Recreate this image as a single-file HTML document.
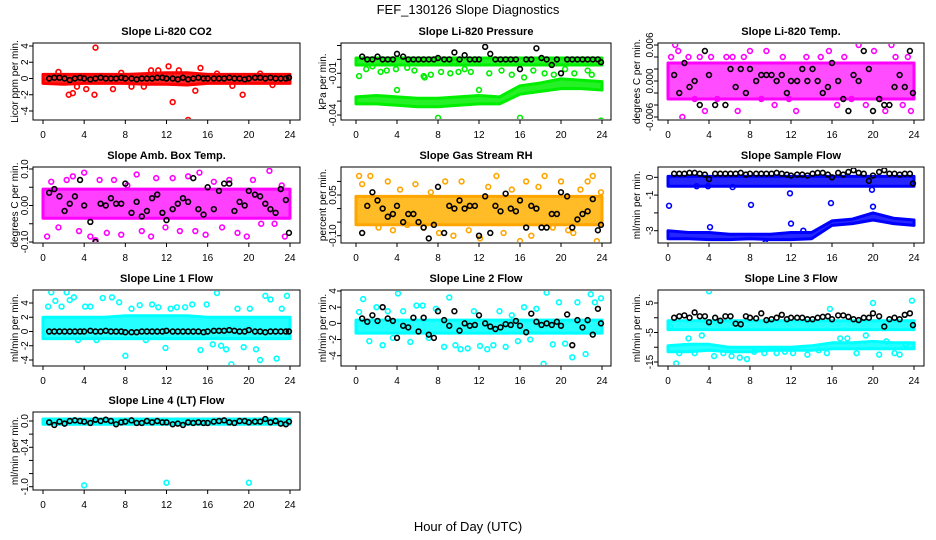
<!DOCTYPE html>
<html><head><meta charset="utf-8"><title>FEF_130126 Slope Diagnostics</title>
<style>html,body{margin:0;padding:0;background:#fff}svg{display:block;font-family:"Liberation Sans",Arial,sans-serif}</style>
</head><body>
<svg id="chart" width="936" height="540" viewBox="0 0 936 540" xmlns="http://www.w3.org/2000/svg">
<text x="468" y="14" text-anchor="middle" font-size="13">FEF_130126  Slope Diagnostics</text>
<text x="468" y="531" text-anchor="middle" font-size="13">Hour of Day (UTC)</text>
</svg>
<script>
// shared x data
const xTicks = [0,4,8,12,16,20,24];
const blackHours = [0.6,1.1,1.6,2.1,2.6,3.1,3.6,4.0,4.6,5.1,5.6,6.1,6.6,7.1,7.6,8.0,8.6,9.1,9.6,10.1,10.6,11.1,11.6,12.0,12.6,13.1,13.6,14.1,14.6,15.1,15.6,16.0,16.6,17.1,17.6,18.1,18.6,19.1,19.6,20.0,20.6,21.1,21.6,22.1,22.6,23.1,23.6,23.9];
const bandHours = [0,2,4,6,8,10,12,14,16,18,20,22,24];

// panel 1 CO2
const co2Ticks = [-4,-2,0,2,4];
const co2TickLabels = ["-4","-2","0","2","4"];
const co2Black = [0.0,0.1,0.1,0.0,-0.2,0.0,0.1,0.0,-0.1,0.0,0.1,0.0,0.0,0.0,0.1,0.0,0.0,-0.1,0.0,0.0,0.0,0.1,0.1,0.0,0.0,-0.1,0.1,-0.1,0.0,0.1,0.0,0.0,0.0,0.0,0.0,0.1,0.0,0.0,-0.1,0.0,0.1,0.1,0.0,0.1,0.0,0.0,0.0,0.1];
const co2BandLo = [-0.6,-0.7,-0.6,-0.6,-0.6,-0.7,-0.7,-0.8,-0.6,-0.6,-0.6,-0.6,-0.6];
const co2BandHi = [0.5,0.5,0.5,0.5,0.5,0.6,0.7,0.7,0.5,0.5,0.5,0.5,0.5];
const co2ScatterX = [5.1,12.2,15.3,2.5,2.9,5.0,6.8,12.6,14.1,14.8,19.4,1.5,11.2,4.2,8.6,10.5,13.2,16.9,21.1,3.3,7.6,9.8,18.4,22.3,0.3];
const co2ScatterY = [3.8,1.5,1.3,-2.0,-1.8,-2.0,-1.3,-2.9,-5.1,-1.5,-2.0,0.8,1.0,-1.3,-1.0,1.0,1.0,0.6,0.6,-1.0,0.7,-1.0,-0.9,-0.8,-0.4];

// panel 2 pressure
const presTicks = [-0.04,-0.03,-0.02,-0.01,0.0,0.01];
const presTickLabels = ["-0.04","","","-0.01","",""];
const presBlack = [0.002,0.0,0.0,0.002,0.0,0.0,0.0,0.004,0.002,0.0,0.0,0.0,0.0,0.0,0.0,0.001,0.0,0.0,0.005,0.0,0.003,0.0,0.0,0.0,0.009,0.004,0.0,0.0,0.0,0.0,0.0,-0.007,0.0,0.0,0.008,0.001,0.0,-0.004,0.0,-0.010,0.0,0.0,0.0,0.0,0.0,0.0,0.0,-0.002];
const presBand1Lo = [-0.004,-0.004,-0.004,-0.004,-0.004,-0.004,-0.004,-0.004,-0.004,-0.004,-0.004,-0.004,-0.004];
const presBand1Hi = [0.001,0.001,0.001,0.001,0.001,0.001,0.001,0.001,0.001,0.001,0.001,0.001,0.001];
const presBand2Lo = [-0.032,-0.032,-0.033,-0.034,-0.034,-0.033,-0.032,-0.032,-0.025,-0.023,-0.021,-0.021,-0.022];
const presBand2Hi = [-0.027,-0.026,-0.027,-0.028,-0.028,-0.027,-0.026,-0.027,-0.019,-0.017,-0.014,-0.015,-0.016];
const presScatterX = [0.3,1,1.6,2.4,3,3.9,5,5.7,6.7,7.3,8,8.3,9.2,10,10.6,11.2,12,13,14.2,15.2,16,16.4,17.3,18.4,19.3,20.4,21.3,22.6,23,23.9,4,9.6,6.6];
const presScatterY = [-0.012,-0.007,-0.005,-0.009,-0.008,-0.007,-0.006,-0.008,-0.013,-0.011,-0.042,-0.009,-0.010,-0.009,-0.007,-0.009,-0.022,-0.010,-0.008,-0.011,-0.042,-0.013,-0.008,-0.010,-0.011,-0.007,-0.010,-0.008,-0.011,-0.044,-0.022,-0.002,-0.012];

// panel 3 Li-820 temp
const tempTicks = [-0.006,-0.004,-0.002,0.0,0.002,0.004,0.006];
const tempTickLabels = ["-0.006","","","0.000","","","0.006"];
const tempBlack = [0.001,-0.002,0.003,-0.001,0.000,-0.004,0.005,0.001,-0.004,-0.007,-0.004,0.002,-0.001,0.002,-0.002,0.002,0.000,0.001,0.001,0.001,0.000,0.001,-0.002,0.000,0.000,0.002,0.000,0.002,0.000,-0.002,-0.001,0.003,0.000,-0.003,-0.005,0.001,0.000,0.005,0.002,-0.005,-0.003,-0.004,-0.004,-0.001,0.001,-0.001,0.005,-0.002];
const tempBandLo = [-0.003,-0.003,-0.003,-0.003,-0.003,-0.003,-0.003,-0.003,-0.003,-0.003,-0.003,-0.003,-0.003];
const tempBandHi = [0.003,0.003,0.003,0.003,0.003,0.003,0.003,0.003,0.003,0.003,0.003,0.003,0.003];
const tempScatterX = [0.3,0.7,1.0,1.4,2.0,2.6,3.1,3.6,4.2,4.8,5.1,5.3,5.7,6.3,6.8,7.4,8.0,9.1,9.6,10.4,11.2,11.8,12.5,13.5,14.2,14.9,15.7,16.5,17.2,17.9,18.6,19.3,20.1,20.7,21.2,21.8,22.2,22.9,23.4,23.7];
const tempScatterY = [0.004,0.006,0.005,-0.006,0.004,-0.003,0.004,-0.005,0.004,-0.003,-0.007,0.007,0.004,0.004,-0.005,0.004,0.005,-0.003,0.005,-0.004,0.004,-0.003,-0.005,0.004,0.007,0.004,0.005,-0.004,0.004,-0.003,0.006,-0.004,0.005,-0.003,-0.005,0.006,0.004,-0.004,0.004,-0.005];

// panel 4 amb box temp
const ambTicks = [-0.10,-0.05,0.0,0.05,0.10];
const ambTickLabels = ["-0.10","","0.00","","0.10"];
const ambBlack = [0.035,0.045,0.025,-0.015,0.005,0.025,0.07,0.0,-0.045,-0.10,0.005,0.0,0.02,0.005,0.005,0.06,-0.02,0.01,-0.03,-0.015,0.02,0.03,-0.02,-0.04,-0.01,0.005,0.02,0.01,0.075,-0.01,-0.025,0.05,-0.01,0.04,0.06,0.06,-0.015,0.01,0.0,0.04,0.03,0.025,0.005,-0.01,-0.02,0.045,0.015,-0.075];
const ambBandLo = [-0.035,-0.035,-0.035,-0.035,-0.035,-0.035,-0.035,-0.035,-0.035,-0.035,-0.035,-0.035,-0.035];
const ambBandHi = [0.045,0.045,0.045,0.045,0.045,0.045,0.045,0.045,0.045,0.045,0.045,0.045,0.045];
const ambScatterX = [0.4,0.8,1.5,2.3,2.9,3.5,4.0,4.6,5.1,5.5,6.2,6.9,7.6,8.2,9.1,9.6,10.5,11.0,11.9,12.6,13.3,14.1,14.8,15.2,15.8,16.6,17.4,18.1,18.9,19.8,20.4,21.2,22.0,22.5,23.2,23.5];
const ambScatterY = [-0.085,0.065,-0.06,0.07,0.08,-0.07,0.09,-0.085,-0.095,0.07,-0.075,0.07,-0.08,0.055,0.085,-0.07,-0.085,0.075,-0.06,0.075,-0.07,0.08,-0.07,0.09,-0.08,0.065,-0.06,0.07,-0.075,-0.085,0.07,-0.05,0.095,-0.05,0.055,-0.085];

// panel 5 gas stream RH
const rhTicks = [-0.10,-0.05,0.0,0.05,0.10];
const rhTickLabels = ["-0.10","","","0.05",""];
const rhBlack = [-0.09,0.01,0.06,0.03,0.0,-0.03,-0.02,0.01,-0.05,-0.02,-0.02,-0.05,-0.07,-0.11,-0.06,0.08,-0.09,0.01,0.0,0.03,0.0,0.01,0.01,-0.1,0.045,-0.09,0.01,-0.01,0.055,0.0,-0.01,0.03,-0.07,0.01,0.0,-0.07,-0.07,-0.02,-0.02,0.06,0.045,-0.07,-0.04,-0.02,-0.01,0.035,-0.08,-0.06];
const rhBandLo = [-0.06,-0.06,-0.06,-0.06,-0.06,-0.06,-0.06,-0.06,-0.06,-0.06,-0.06,-0.06,-0.06];
const rhBandHi = [0.045,0.045,0.045,0.045,0.045,0.045,0.045,0.045,0.045,0.045,0.045,0.045,0.045];
const rhScatterX = [0.3,0.6,1.4,2.2,3.1,3.6,4.3,5.0,5.8,6.6,7.3,8.1,8.7,9.5,10.3,11.0,12.1,12.9,13.7,14.4,15.2,16.0,16.6,17.1,17.8,18.4,19.2,20.0,20.7,21.2,21.9,22.6,23.1,23.5,23.9];
const rhScatterY = [0.12,0.09,0.12,-0.07,0.1,-0.08,0.07,-0.06,0.09,-0.07,0.06,-0.09,0.1,-0.10,0.1,-0.08,-0.11,0.08,0.12,-0.09,0.07,-0.12,0.1,-0.10,0.08,0.12,-0.07,0.1,-0.08,-0.09,0.07,0.1,0.12,-0.12,0.06];

// panel 6 sample flow
const sfTicks = [-3,-2,-1,0];
const sfTickLabels = ["-3","","-1","0"];
const sfBlack = [0.2,0.2,0.2,0.25,0.25,0.2,0.15,-0.1,0.2,0.2,0.2,0.2,0.2,0.25,0.15,0.2,0.2,0.2,0.2,0.2,0.25,0.2,0.15,0.1,0.15,0.15,0.1,0.2,0.25,0.25,0.15,0.0,0.25,0.15,0.3,0.4,0.25,0.2,-0.2,0.1,0.3,0.4,0.2,0.2,0.15,0.2,0.2,-0.35];
const sfBand1Lo = [-0.5,-0.5,-0.5,-0.5,-0.5,-0.5,-0.5,-0.5,-0.5,-0.5,-0.5,-0.5,-0.5];
const sfBand1Hi = [0.05,0.05,0.05,0.05,0.05,0.05,0.05,0.05,0.05,0.05,0.05,0.05,0.05];
const sfBand2Lo = [-3.45,-3.45,-3.5,-3.5,-3.45,-3.5,-3.5,-3.45,-2.7,-2.6,-2.4,-2.6,-2.7];
const sfBand2Hi = [-3.0,-3.1,-3.1,-3.2,-3.2,-3.2,-3.1,-3.1,-2.45,-2.35,-2.0,-2.3,-2.4];
const sfScatterX = [0.1,3.9,4.1,8.1,11.9,12.0,15.9,19.9,20.0,9.5,6.3,2.8,13.2];
const sfScatterY = [-1.6,-0.5,-2.8,-1.55,-0.9,-2.6,-1.45,-0.7,-1.65,-3.7,-0.55,-0.5,-3.0];

// panel 7 line 1
const l1Ticks = [-4,-2,0,2,4];
const l1TickLabels = ["-4","-2","0","2","4"];
const l1Black = [0.0,0.0,0.0,0.0,0.0,0.0,0.0,0.0,0.1,0.0,0.0,0.1,0.0,0.0,0.0,-0.1,-0.1,-0.1,0.0,0.0,0.0,0.0,0.0,0.1,0.0,0.0,0.0,0.0,0.0,0.0,-0.1,0.0,0.1,0.1,0.1,0.2,0.1,0.0,0.0,0.2,0.0,0.0,-0.1,0.0,0.0,0.0,0.0,0.0];
const l1BandLo = [-1.0,-1.0,-1.0,-1.0,-1.0,-1.0,-1.0,-1.0,-1.0,-1.0,-1.0,-1.0,-1.0];
const l1BandHi = [2.0,2.0,2.0,2.0,2.2,2.2,2.2,2.2,2.0,2.0,2.0,2.0,2.0];
const l1ScatterX = [0.5,0.8,1.2,1.8,2.3,2.6,3.0,3.4,4.1,4.6,5.2,5.8,6.7,7.4,8.0,8.6,9.4,10.0,10.6,11.2,11.9,12.4,13.0,13.8,14.5,15.3,15.9,16.5,16.9,17.3,17.8,18.3,18.9,19.5,20.1,20.7,21.1,21.6,22.1,22.7,23.2,23.7];
const l1ScatterY = [3.5,5.5,4.3,3.5,5.5,4.4,4.8,-1.2,3.5,3.5,-1.2,4.7,4.8,4.1,-3.4,3.2,3.7,-1.2,3.8,3.4,-2.3,3.2,3.4,3.4,3.8,-2.6,3.8,-1.8,5.4,-2.0,-2.5,-4.6,3.2,-2.2,3.2,-2.5,-4.0,5.0,4.5,-3.8,3.2,5.0];

// panel 8 line 2
const l2Ticks = [-4,-2,0,2,4];
const l2TickLabels = ["-4","-2","0","2","4"];
const l2Black = [0.6,0.2,1.0,0.3,2.0,0.6,0.3,-1.8,-0.3,-0.5,0.7,-1.0,0.7,-1.4,-1.8,1.5,0.4,-0.3,1.5,-0.9,0.0,-0.3,-0.2,1.0,0.0,-0.4,-0.7,-0.5,-0.1,-0.2,0.3,-0.3,-1.1,1.2,0.2,-0.2,0.0,-0.2,0.2,-0.3,1.1,-2.7,0.4,-0.5,0.4,-1.4,1.8,0.0];
const l2BandLo = [-1.2,-1.2,-1.2,-1.2,-1.2,-1.2,-1.2,-1.2,-1.2,-1.2,-1.2,-1.2,-1.2];
const l2BandHi = [0.4,0.4,0.4,0.4,0.4,0.4,0.4,0.4,0.4,0.4,0.4,0.4,0.4];
const l2ScatterX = [0.3,0.7,1.3,2.0,2.6,3.1,3.6,4.1,4.6,5.3,5.9,6.5,7.1,7.8,8.6,9.1,9.7,10.2,10.9,11.5,12.1,12.8,13.4,14.0,14.6,15.2,15.8,16.4,17.0,17.6,18.3,18.6,19.2,19.8,20.4,21.1,21.6,22.4,22.9,23.3,23.9];
const l2ScatterY = [1.4,3.0,-2.2,2.0,-2.7,1.5,-1.8,3.7,1.5,-2.3,2.2,2.2,-1.8,1.8,-2.9,3.2,-2.7,-3.2,-3.1,1.5,-2.8,-3.2,-2.7,1.5,-2.9,1.0,-2.2,2.0,-2.0,1.8,-5.0,3.8,-2.6,2.6,-2.5,-4.2,2.6,-3.8,3.6,2.6,3.1];

// panel 9 line 3
const l3Ticks = [-15,-10,-5,0,5];
const l3TickLabels = ["-15","","-5","","5"];
const l3Black = [0,0.5,0.8,0,1.8,0.5,0.5,-1.5,0,-1,0.5,0.5,-2.0,-2.2,0.5,0,-0.2,1.5,-0.8,-0.5,0,1.0,-0.5,0,0,0,-0.5,-0.5,0,0.3,0.5,-0.5,0.8,0.8,0.3,-0.5,-0.8,0,0,1.5,0.5,-3.0,-0.5,0,-0.5,1.0,1.5,-2.5];
const l3Band1Lo = [-4,-4,-4,-4,-4,-4,-4,-4,-4,-4,-4,-4,-4];
const l3Band1Hi = [-1,-1,-1,-1,-1,-1,-1,-1,-1,-1,-1,-1,-1];
const l3Band2Lo = [-11.5,-11.5,-11,-11.5,-11.5,-11,-11,-11,-10.5,-10.5,-10.5,-10.5,-10.5];
const l3Band2Hi = [-9.5,-9,-9,-10,-10,-10,-10,-9.5,-8.5,-8.5,-8,-8.5,-8.5];
const l3ScatterX = [0.2,0.8,1.1,2.0,2.6,3.3,4.0,4.5,5.4,6.2,7.0,7.7,8.4,9.4,10.6,11.4,12.2,13.6,14.7,15.5,15.8,16.8,17.5,18.4,19.3,20.0,20.6,21.3,22.1,22.6,23.2,23.8];
const l3ScatterY = [-3,-15.5,-12,-7,-12,-6,9,-13,-12,-13,-13.5,-14,-11.5,-12,-12,-11.5,-12,-12.5,-11,-12,3,-7,-7,-12,-6,5,-12.5,-8,-12,-12.5,-9,5.8];

// panel 10 line 4
const l4Ticks = [-1.0,-0.8,-0.6,-0.4,-0.2,0.0];
const l4TickLabels = ["-1.0","","","-0.4","","0.0"];
const l4Black = [-0.02,-0.06,-0.01,-0.04,0.0,0.01,0.0,-0.01,-0.03,0.02,0.0,0.02,0.0,-0.05,-0.02,-0.01,0.01,-0.03,-0.03,0.0,-0.02,0.0,-0.02,-0.02,-0.05,-0.04,-0.06,-0.02,-0.03,-0.02,-0.03,-0.03,-0.01,0.0,0.01,-0.02,-0.03,0.0,0.0,-0.02,-0.01,-0.01,0.03,-0.02,0.0,-0.04,-0.05,-0.01];
const l4BandLo = [-0.05,-0.05,-0.05,-0.05,-0.05,-0.05,-0.05,-0.05,-0.05,-0.05,-0.05,-0.05,-0.05];
const l4BandHi = [0.03,0.03,0.03,0.03,0.03,0.03,0.03,0.03,0.03,0.03,0.03,0.03,0.03];
const l4ScatterX = [4.0,12.0,20.0];
const l4ScatterY = [-0.98,-0.94,-0.94];

const NS = "http://www.w3.org/2000/svg";
const svg = document.getElementById('chart');
const cols = [{l:33,r:300,x0:43,x24:290,lab:18},{l:341,r:611,x0:356,x24:602,lab:326},{l:658,r:924,x0:668,x24:914,lab:640}];
const rows = [{t:43,b:120},{t:167,b:243},{t:290,b:366},{t:412,b:490}];

function mk(tag, attrs, parent){const e=document.createElementNS(NS,tag);for(const k in attrs)e.setAttribute(k,attrs[k]);(parent||svg).appendChild(e);return e;}

function panel(cfg){
  const c=cols[cfg.col], r=rows[cfg.row];
  const xs=h=>c.x0+(h/24)*(c.x24-c.x0);
  const ys=v=>cfg.p0+(v-cfg.t0)*(cfg.p1-cfg.p0)/(cfg.t1-cfg.t0);
  const g=mk('g',{});
  
  
  const clip='clip-'+cfg.name;
  const cp=mk('clipPath',{id:clip},g); mk('rect',{x:c.l+1,y:r.t+1,width:c.r-c.l-2,height:r.b-r.t-2},cp);
  const pg=mk('g',{'clip-path':'url(#'+clip+')'},g);
  (cfg.bands||[]).forEach(function(b,bi){
    let d='';
    bandHours.forEach(function(h,i){d+=(i?'L':'M')+xs(h).toFixed(1)+','+ys(b.hi[i]).toFixed(1);});
    for(let i=bandHours.length-1;i>=0;i--) d+='L'+xs(bandHours[i]).toFixed(1)+','+ys(b.lo[i]).toFixed(1);
    const p=mk('path',{d:d+'Z',fill:cfg.fill||cfg.color,'fill-opacity':cfg.op||'0.85',stroke:cfg.color,'stroke-width':'3','stroke-linejoin':'round'},pg);
    
    
  });
  cfg.sx.forEach(function(h,i){
    const e=mk('circle',{cx:xs(h),cy:ys(cfg.sy[i]),r:2.4,fill:'none',stroke:cfg.color,'stroke-width':1.6},pg);
    
    
  });
  blackHours.forEach(function(h,i){
    const e=mk('circle',{cx:xs(h),cy:ys(cfg.black[i]),r:2.4,fill:'none',stroke:'#000','stroke-width':1.6},pg);
    
    
  });
  const box=mk('rect',{x:c.l,y:r.t,width:c.r-c.l,height:r.b-r.t,fill:'none',stroke:'#000','stroke-width':1},g);
  
  
  mk('line',{x1:c.x0,x2:c.x24,y1:r.b,y2:r.b,stroke:'#000'},g);
  xTicks.forEach(function(t){
    mk('line',{x1:xs(t),x2:xs(t),y1:r.b,y2:r.b+4,stroke:'#000'},g);
    const tx=mk('text',{x:xs(t),y:r.b+18,'text-anchor':'middle','font-size':10},g);
    tx.textContent=t;
    
    
  });
  cfg.ticks.forEach(function(t,i){
    const y=ys(t);
    mk('line',{x1:c.l-4,x2:c.l,y1:y,y2:y,stroke:'#000'},g);
    if(cfg.labels[i]){
      const lx=c.l-5;
      const tx=mk('text',{x:lx,y:y,'text-anchor':'middle','font-size':10,transform:'rotate(-90 '+lx+' '+y+')'},g);
      tx.textContent=cfg.labels[i];
      
      
    }
  });
  const ym=(r.t+r.b)/2;
  const yl=mk('text',{x:c.lab,y:ym,'text-anchor':'middle','font-size':10,transform:'rotate(-90 '+c.lab+' '+ym+')'},g);
  yl.textContent=cfg.ylab;
  
  
  const ti=mk('text',{x:(c.l+c.r)/2,y:r.t-8,'text-anchor':'middle','font-size':11,'font-weight':'bold'},g);
  ti.textContent=cfg.title;
  
  
}

panel({name:'co2',col:0,row:0,title:'Slope Li-820 CO2',ylab:'Licor ppm per min.',color:'#ff0000',t0:-4,p0:111,t1:4,p1:46,ticks:co2Ticks,labels:co2TickLabels,black:co2Black,bands:[{lo:co2BandLo,hi:co2BandHi}],sx:co2ScatterX,sy:co2ScatterY});
panel({name:'pressure',col:1,row:0,title:'Slope Li-820 Pressure',ylab:'kPa per min.',color:'#00ee00',t0:-0.04,p0:115,t1:-0.01,p1:73.3,ticks:presTicks,labels:presTickLabels,black:presBlack,bands:[{lo:presBand1Lo,hi:presBand1Hi},{lo:presBand2Lo,hi:presBand2Hi}],sx:presScatterX,sy:presScatterY});
panel({name:'li820-temp',col:2,row:0,title:'Slope Li-820 Temp.',ylab:'degrees C per min.',color:'#ff00ff',op:'0.7',t0:-0.006,p0:117,t1:0.006,p1:45,ticks:tempTicks,labels:tempTickLabels,black:tempBlack,bands:[{lo:tempBandLo,hi:tempBandHi}],sx:tempScatterX,sy:tempScatterY});
panel({name:'amb-box-temp',col:0,row:1,title:'Slope Amb. Box Temp.',ylab:'degrees C per min.',color:'#ff00ff',op:'0.75',t0:-0.10,p0:242,t1:0.10,p1:169,ticks:ambTicks,labels:ambTickLabels,black:ambBlack,bands:[{lo:ambBandLo,hi:ambBandHi}],sx:ambScatterX,sy:ambScatterY});
panel({name:'gas-stream-rh',col:1,row:1,title:'Slope Gas Stream RH',ylab:'percent per min.',color:'#ffa500',fill:'#ffb000',t0:-0.10,p0:235.7,t1:0.05,p1:195,ticks:rhTicks,labels:rhTickLabels,black:rhBlack,bands:[{lo:rhBandLo,hi:rhBandHi}],sx:rhScatterX,sy:rhScatterY});
panel({name:'sample-flow',col:2,row:1,title:'Slope Sample Flow',ylab:'ml/min per min.',color:'#0000ff',t0:-3,p0:230.7,t1:0,p1:177.3,ticks:sfTicks,labels:sfTickLabels,black:sfBlack,bands:[{lo:sfBand1Lo,hi:sfBand1Hi},{lo:sfBand2Lo,hi:sfBand2Hi}],sx:sfScatterX,sy:sfScatterY});
panel({name:'line1-flow',col:0,row:2,title:'Slope Line 1 Flow',ylab:'ml/min per min.',color:'#00ffff',t0:-4,p0:360,t1:4,p1:303,ticks:l1Ticks,labels:l1TickLabels,black:l1Black,bands:[{lo:l1BandLo,hi:l1BandHi}],sx:l1ScatterX,sy:l1ScatterY});
panel({name:'line2-flow',col:1,row:2,title:'Slope Line 2 Flow',ylab:'ml/min per min.',color:'#00ffff',t0:-4,p0:355.7,t1:4,p1:291,ticks:l2Ticks,labels:l2TickLabels,black:l2Black,bands:[{lo:l2BandLo,hi:l2BandHi}],sx:l2ScatterX,sy:l2ScatterY});
panel({name:'line3-flow',col:2,row:2,title:'Slope Line 3 Flow',ylab:'ml/min per min.',color:'#00ffff',t0:-15,p0:362,t1:5,p1:303,ticks:l3Ticks,labels:l3TickLabels,black:l3Black,bands:[{lo:l3Band1Lo,hi:l3Band1Hi},{lo:l3Band2Lo,hi:l3Band2Hi}],sx:l3ScatterX,sy:l3ScatterY});
panel({name:'line4-flow',col:0,row:3,title:'Slope Line 4 (LT) Flow',ylab:'ml/min per min.',color:'#00ffff',t0:-1.0,p0:486.7,t1:0.0,p1:421,ticks:l4Ticks,labels:l4TickLabels,black:l4Black,bands:[{lo:l4BandLo,hi:l4BandHi}],sx:l4ScatterX,sy:l4ScatterY});
</script>
</body></html>
